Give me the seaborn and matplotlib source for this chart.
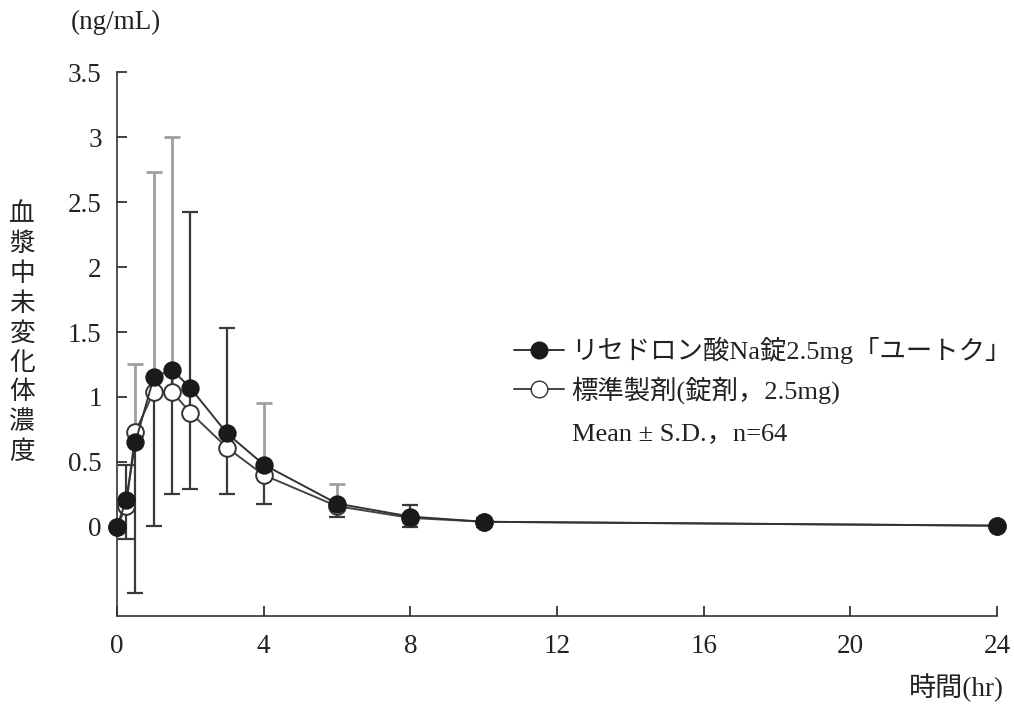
import numpy as np
import pandas as pd
import matplotlib
matplotlib.use("Agg")
import matplotlib.pyplot as plt
from matplotlib.lines import Line2D
import seaborn as sns

# sampling times (hr)
times = [0, 0.25, 0.5, 1, 1.5, 2, 3, 4, 6, 8, 10, 24]
# test product (filled circles) mean plasma concentration (ng/mL)
test_mean = [0, 0.21, 0.65, 1.15, 1.21, 1.07, 0.72, 0.48, 0.18, 0.08, 0.04, 0.01]
# reference product (open circles)
ref_mean = [0, 0.16, 0.73, 1.04, 1.04, 0.88, 0.61, 0.40, 0.16, 0.07, 0.04, 0.01]

# visible S.D. bars (nan = not drawn)
nan = np.nan
ref_sd_up = [nan, nan, 0.52, 1.69, 1.96, nan, nan, 0.55, 0.17, nan, nan, nan]
test_sd_up = [nan, 0.27, nan, nan, nan, 1.35, 0.81, nan, nan, 0.09, 0.03, nan]
test_sd_down = [nan, 0.30, 1.16, 1.14, 0.96, 0.78, 0.47, 0.30, 0.10, 0.08, 0.04, nan]

test_label = "リセドロン酸Na錠2.5mg「ユートク」"
ref_label = "標準製剤(錠剤，2.5mg)"
note_label = "Mean ± S.D.，n=64"

sns.set_style("ticks")
fam = ["Liberation Serif", "Noto Sans CJK JP"]
plt.rcParams["font.family"] = fam
plt.rcParams["axes.unicode_minus"] = False

fig = plt.figure(figsize=(10.14, 7.07), dpi=100)
ax = fig.add_axes([0.1154, 0.1287, 0.8679, 0.7694])

t = np.array(times)
zero = np.zeros(len(t))
up_t = np.array(test_sd_up)
dn_t = np.array(test_sd_down)
# fill the missing side with 0 so one-sided bars still get drawn (cap hides under marker)
up_t_f = np.where(np.isnan(up_t) & ~np.isnan(dn_t), 0, up_t)
dn_t_f = np.where(np.isnan(dn_t) & ~np.isnan(up_t), 0, dn_t)

ax.errorbar(t, ref_mean, yerr=[zero, ref_sd_up], fmt="none",
            ecolor="#9f9f9f", elinewidth=2, capsize=6, capthick=2, zorder=1)
ax.errorbar(t, test_mean, yerr=[dn_t_f, up_t_f], fmt="none",
            ecolor="#3a3a3a", elinewidth=1.6, capsize=6, capthick=1.6, zorder=1)

df_ref = pd.DataFrame({"time": times, "conc": ref_mean})
df_test = pd.DataFrame({"time": times, "conc": test_mean})

sns.lineplot(data=df_ref, x="time", y="conc", ax=ax, color="#444444", lw=1.4,
             marker="o", markersize=12, markerfacecolor="white",
             markeredgecolor="#333333", markeredgewidth=1.4, zorder=3, clip_on=False)
sns.lineplot(data=df_test, x="time", y="conc", ax=ax, color="#333333", lw=1.4,
             marker="o", markersize=12, markerfacecolor="#1a1a1a",
             markeredgecolor="#1a1a1a", markeredgewidth=1.2, zorder=4, clip_on=False)

ax.set_xlim(0, 24)
ax.set_ylim(-0.685, 3.5)
ax.set_xticks([0, 4, 8, 12, 16, 20, 24])
ax.set_yticks([0, 0.5, 1, 1.5, 2, 2.5, 3, 3.5])
ax.set_yticklabels(["0", "0.5", "1", "1.5", "2", "2.5", "3", "3.5"])
ax.tick_params(direction="in", length=7, width=1.2, labelsize=19.5, colors="#222222")
ax.tick_params(axis="y", pad=11)
ax.tick_params(axis="x", pad=13)
for s in ["top", "right"]:
    ax.spines[s].set_visible(False)
for s in ["left", "bottom"]:
    ax.spines[s].set_linewidth(1.2)
    ax.spines[s].set_color("#333333")
ax.set_xlabel("")
ax.set_ylabel("")

# axis titles
fig.text(0.114, 0.968, "(ng/mL)", fontsize=19.5, ha="center", va="center",
         color="#222222")
fig.text(0.022, 0.528, "\n".join("血漿中未変化体濃度"), fontsize=18.5, ha="center",
         va="center", linespacing=1.34, color="#222222")
fig.text(0.99, 0.027, "時間(hr)", fontsize=19.5, ha="right", va="center",
         color="#222222")

handles = [
    Line2D([], [], color="#333333", lw=1.4, marker="o", markersize=12,
           markerfacecolor="#1a1a1a", markeredgecolor="#1a1a1a"),
    Line2D([], [], color="#444444", lw=1.4, marker="o", markersize=12,
           markerfacecolor="white", markeredgecolor="#333333"),
]
leg = ax.legend(handles, [test_label, ref_label], loc="upper left",
                bbox_to_anchor=(0.507, 0.523), bbox_transform=fig.transFigure,
                frameon=False, fontsize=19, handlelength=1.9, handletextpad=0.26,
                labelspacing=0.45, borderpad=0, borderaxespad=0)
for txt in leg.get_texts():
    txt.set_color("#222222")
fig.text(0.564, 0.385, note_label, fontsize=19, ha="left", va="center",
         color="#222222")

fig.savefig("out.png", dpi=100)
